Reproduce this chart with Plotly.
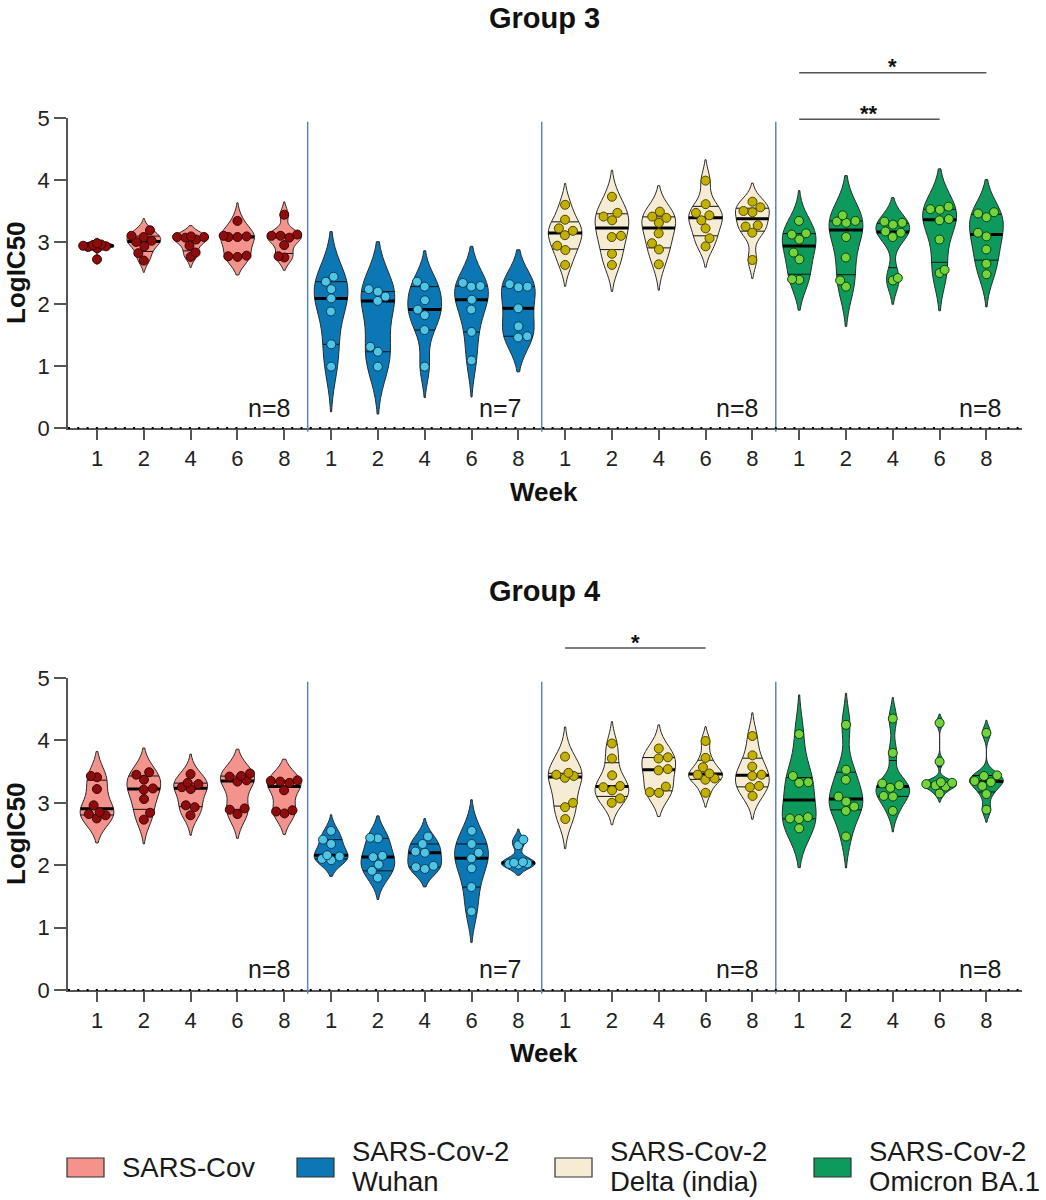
import numpy as np
import plotly.graph_objects as go

# ---- data (LogIC50 per animal) ----
variants = ["SARS-Cov", "SARS-Cov-2<br>Wuhan", "SARS-Cov-2<br>Delta (india)", "SARS-Cov-2<br>Omicron BA.1"]
weeks = ["1", "2", "4", "6", "8"]
n_labels = ["n=8", "n=7", "n=8", "n=8"]

g3_sarscov = [
    [2.72, 2.90, 2.92, 2.93, 2.94, 2.95, 2.96, 2.98],
    [2.70, 2.82, 2.93, 3.00, 3.02, 3.08, 3.10, 3.19],
    [2.76, 2.83, 2.94, 3.04, 3.07, 3.08, 3.08, 3.09],
    [2.76, 2.77, 2.78, 3.08, 3.08, 3.09, 3.10, 3.34],
    [2.75, 2.77, 2.95, 3.07, 3.10, 3.10, 3.12, 3.44],
]
g3_wuhan = [
    [0.99, 1.35, 1.88, 2.09, 2.24, 2.36, 2.44],
    [0.99, 1.23, 1.31, 2.05, 2.12, 2.20, 2.24],
    [0.99, 1.58, 1.82, 1.91, 2.06, 2.28, 2.36],
    [1.09, 1.55, 1.91, 2.07, 2.28, 2.29, 2.34],
    [1.46, 1.48, 1.64, 1.93, 2.27, 2.28, 2.32],
]
g3_delta = [
    [2.63, 2.87, 2.94, 3.11, 3.18, 3.22, 3.36, 3.60],
    [2.63, 2.81, 3.08, 3.10, 3.35, 3.41, 3.47, 3.73],
    [2.64, 2.88, 2.98, 3.14, 3.31, 3.39, 3.41, 3.49],
    [2.93, 3.06, 3.22, 3.35, 3.43, 3.47, 3.61, 3.99],
    [2.71, 3.15, 3.25, 3.27, 3.48, 3.50, 3.56, 3.65],
]
g3_omicron = [
    [2.39, 2.40, 2.72, 2.83, 3.04, 3.12, 3.14, 3.34],
    [2.28, 2.38, 2.75, 3.08, 3.31, 3.33, 3.34, 3.43],
    [2.38, 2.42, 3.08, 3.15, 3.17, 3.28, 3.31, 3.33],
    [2.50, 2.55, 3.04, 3.35, 3.37, 3.52, 3.53, 3.57],
    [2.48, 2.65, 2.88, 3.09, 3.15, 3.40, 3.46, 3.48],
]
g4_sarscov = [
    [2.75, 2.80, 2.82, 2.85, 2.96, 3.22, 3.41, 3.43],
    [2.73, 2.84, 3.06, 3.21, 3.23, 3.37, 3.45, 3.49],
    [2.80, 2.93, 2.96, 3.22, 3.25, 3.30, 3.32, 3.46],
    [2.82, 2.89, 2.91, 3.34, 3.36, 3.42, 3.43, 3.47],
    [2.83, 2.86, 2.88, 3.20, 3.32, 3.34, 3.35, 3.36],
]
g4_wuhan = [
    [2.08, 2.10, 2.14, 2.16, 2.34, 2.41, 2.55],
    [1.80, 1.91, 2.01, 2.13, 2.15, 2.43, 2.44],
    [1.94, 1.97, 1.99, 2.20, 2.22, 2.34, 2.46],
    [1.26, 1.65, 1.95, 2.11, 2.20, 2.34, 2.55],
    [2.01, 2.02, 2.03, 2.04, 2.05, 2.32, 2.41],
]
g4_delta = [
    [2.74, 2.93, 3.00, 3.40, 3.43, 3.45, 3.48, 3.74],
    [3.00, 3.07, 3.20, 3.25, 3.27, 3.44, 3.71, 3.95],
    [3.16, 3.17, 3.26, 3.52, 3.54, 3.71, 3.73, 3.87],
    [3.16, 3.37, 3.39, 3.45, 3.47, 3.57, 3.72, 3.99],
    [3.11, 3.25, 3.27, 3.43, 3.45, 3.58, 3.76, 4.07],
]
g4_omicron = [
    [2.59, 2.74, 2.75, 2.77, 3.32, 3.33, 3.43, 4.10],
    [2.46, 2.87, 2.94, 3.02, 3.10, 3.37, 3.53, 4.25],
    [2.87, 3.10, 3.11, 3.24, 3.28, 3.31, 3.80, 4.35],
    [3.15, 3.26, 3.28, 3.30, 3.32, 3.33, 3.66, 4.28],
    [2.89, 3.14, 3.27, 3.33, 3.35, 3.43, 3.44, 4.12],
]

# significance bars: (group, first slot, last slot, label, height)
sig_bars = [
    ("g3", 15, 19, "*", 5.73),
    ("g3", 15, 18, "**", 4.98),
    ("g4", 10, 13, "*", 5.48),
]

groups = {
    "g3": [g3_sarscov, g3_wuhan, g3_delta, g3_omicron],
    "g4": [g4_sarscov, g4_wuhan, g4_delta, g4_omicron],
}

# ---- styling / geometry ----
FILL = ["#F4938B", "#0B77B4", "#F5ECD3", "#0F9A5D"]
POINT = ["#8E0C0C", "#4FC5E6", "#C3B000", "#72D43A"]
POINT_EDGE = ["#3a0505", "#0d3b55", "#4d4500", "#0f3d12"]
FONT = "Liberation Sans, Arial, sans-serif"
FW, FH = 1046, 1200


def PX(x):
    return x / FW


def PY(y):
    return 1 - y / FH


X_DOM = [PX(68), PX(1022)]
X_RANGE = [-0.62, 19.76]
Y_DOM = {"g3": [PY(428), PY(118)], "g4": [PY(990), PY(678)]}
AX = {"g3": ("x", "y"), "g4": ("x2", "y2")}
VWIDTH = 0.72
PX_X = (X_DOM[1] - X_DOM[0]) * FW / (X_RANGE[1] - X_RANGE[0])
PX_Y = 62.2


def xp(x):
    return X_DOM[0] + (x - X_RANGE[0]) / (X_RANGE[1] - X_RANGE[0]) * (X_DOM[1] - X_DOM[0])


def yp(v, g):
    d = Y_DOM[g]
    return d[0] + v / 5 * (d[1] - d[0])


def bandwidth(v):
    v = np.asarray(v)
    sd = v.std(ddof=1)
    q1, q3 = np.percentile(v, [25, 75])
    a = min(sd, (q3 - q1) / 1.349) or sd
    return max(1.059 * a * len(v) ** -0.2, 0.04)


def half_width(v, bw, y):
    v = np.asarray(v)
    lo, hi = v.min() - 2 * bw, v.max() + 2 * bw
    n = int(np.ceil((hi - lo) / (bw / 3)))
    grid = np.linspace(lo, hi, n + 1)
    dens = lambda t: np.exp(-0.5 * ((np.atleast_1d(t)[:, None] - v[None, :]) / bw) ** 2).sum(1)
    return VWIDTH / 2 * dens(y) / dens(grid).max()


def swarm(v, bw, d=9.0):
    # simple beeswarm, kept inside the violin where possible
    v = np.asarray(v)
    ys = v * PX_Y
    lims = np.clip(half_width(v, bw, v) * PX_X - 3, 5, 15)
    placed, offs = [], np.zeros(len(v))
    for i in np.argsort(ys):
        cands = sorted(np.arange(-lims[i], lims[i] + 0.01, 0.5), key=lambda c: (abs(c), -c))
        best, best_gap = 0.0, -1
        for c in cands:
            gap = min([np.hypot(c - px, ys[i] - py) for px, py in placed] or [99])
            if gap >= d:
                best = c
                break
            if gap > best_gap:
                best, best_gap = c, gap
        placed.append((best, ys[i]))
        offs[i] = best / PX_X
    return offs


fig = go.Figure()

for g, series in groups.items():
    xa, ya = AX[g]
    for vi, weekly in enumerate(series):
        med_x, med_y, q_x, q_y, pt_x, pt_y = [], [], [], [], [], []
        for wi, vals in enumerate(weekly):
            pos = vi * 5 + wi
            bw = bandwidth(vals)
            fig.add_trace(go.Violin(
                x=[pos] * len(vals), y=vals, xaxis=xa, yaxis=ya,
                bandwidth=bw, spanmode="soft", width=VWIDTH,
                fillcolor=FILL[vi], line=dict(color="#2b2b2b", width=1),
                opacity=1, points=False, box_visible=False, meanline_visible=False,
                showlegend=False, hoverinfo="y",
            ))
            med = np.median(vals)
            q1, q3 = np.percentile(vals, [25, 75], method="weibull")
            hw = half_width(vals, bw, [med, q1, q3])
            med_x += [pos - hw[0], pos + hw[0], None]
            med_y += [med, med, None]
            for q, h in ((q1, hw[1]), (q3, hw[2])):
                q_x += [pos - h, pos + h, None]
                q_y += [q, q, None]
            pt_x += list(pos + swarm(vals, bw))
            pt_y += list(vals)
        fig.add_trace(go.Scatter(x=q_x, y=q_y, xaxis=xa, yaxis=ya, mode="lines",
                                 line=dict(color="#111", width=1), showlegend=False, hoverinfo="skip"))
        fig.add_trace(go.Scatter(x=med_x, y=med_y, xaxis=xa, yaxis=ya, mode="lines",
                                 line=dict(color="#000", width=3), showlegend=False, hoverinfo="skip"))
        fig.add_trace(go.Scatter(x=pt_x, y=pt_y, xaxis=xa, yaxis=ya, mode="markers",
                                 marker=dict(size=9, color=POINT[vi], line=dict(color=POINT_EDGE[vi], width=1)),
                                 showlegend=False, hoverinfo="y"))

shapes, annotations = [], []
for g in groups:
    # separators between virus panels
    for k in range(1, 4):
        shapes.append(dict(type="line", xref="paper", yref="paper", x0=xp(k * 5 - 0.5), x1=xp(k * 5 - 0.5),
                           y0=yp(-0.06, g), y1=yp(4.94, g), line=dict(color="#5b87b8", width=1.5)))
    # dotted zero line
    shapes.append(dict(type="line", xref="paper", yref="paper", x0=X_DOM[0], x1=X_DOM[1],
                       y0=yp(0, g), y1=yp(0, g), line=dict(color="#000", width=2, dash="2px,7.3px")))
    xa, ya = AX[g]
    for lab, nx in zip(n_labels, [4.17, 9.1, 14.17, 19.36]):
        annotations.append(dict(xref=xa, yref=ya, x=nx, y=0.33, text=lab, showarrow=False,
                                xanchor="right", yanchor="middle", font=dict(size=25, color="#1a1a1a")))

for g, a, b, lab, lvl in sig_bars:
    shapes.append(dict(type="line", xref="paper", yref="paper", x0=xp(a), x1=xp(b),
                       y0=yp(lvl, g), y1=yp(lvl, g), line=dict(color="#555", width=1.5)))
    annotations.append(dict(xref="paper", yref="paper", x=xp((a + b) / 2), y=yp(lvl, g) + 6 / FH,
                            text="<b>%s</b>" % lab, showarrow=False, xanchor="center", yanchor="middle",
                            font=dict(size=22, color="#111")))

# titles and axis titles
for title, ty, wy, ly in (("Group 3", 0, 492, 273), ("Group 4", 573, 1053, 834)):
    annotations.append(dict(xref="paper", yref="paper", x=PX(544), y=PY(ty), text="<b>%s</b>" % title,
                            showarrow=False, xanchor="center", yanchor="top", font=dict(size=29, color="#111")))
    annotations.append(dict(xref="paper", yref="paper", x=PX(544), y=PY(wy), text="<b>Week</b>",
                            showarrow=False, xanchor="center", yanchor="middle", font=dict(size=26, color="#111")))
    annotations.append(dict(xref="paper", yref="paper", x=PX(16), y=PY(ly), text="<b>LogIC50</b>",
                            showarrow=False, textangle=-90, xanchor="center", yanchor="middle",
                            font=dict(size=26, color="#111")))

# legend drawn as boxes + labels (one annotation per text line)
for vi, name in enumerate(variants):
    x0 = [67, 297, 555, 814][vi]
    shapes.append(dict(type="rect", xref="paper", yref="paper", x0=PX(x0), x1=PX(x0 + 37),
                       y0=PY(1177), y1=PY(1158), fillcolor=FILL[vi], line=dict(color="#333", width=1.2)))
    lines = name.split("<br>")
    ys = [1167] if len(lines) == 1 else [1151, 1181]
    for txt, ly in zip(lines, ys):
        annotations.append(dict(xref="paper", yref="paper", x=PX(x0 + 53), y=PY(ly),
                                text=txt, showarrow=False, xanchor="left", yanchor="middle", align="left",
                                font=dict(size=27.5, color="#1a1a1a")))

axis_common = dict(showgrid=False, zeroline=False, showline=True, linecolor="#555", linewidth=1.5,
                   ticks="outside", tickcolor="#555", tickwidth=1.5, automargin=False,
                   tickfont=dict(size=22, color="#222", family=FONT))
xcommon = dict(axis_common, range=X_RANGE, domain=X_DOM, tickmode="array",
               tickvals=list(range(20)), ticktext=weeks * 4, ticklen=10)
ycommon = dict(axis_common, range=[0, 5], tickmode="array", tickvals=[0, 1, 2, 3, 4, 5], ticklen=12)

fig.update_layout(
    width=FW, height=FH,
    margin=dict(l=0, r=0, t=0, b=0, autoexpand=False),
    paper_bgcolor="white", plot_bgcolor="white",
    font=dict(family=FONT, color="#111"),
    violinmode="overlay",
    showlegend=False,
    xaxis=dict(xcommon, anchor="y"),
    yaxis=dict(ycommon, domain=Y_DOM["g3"], anchor="x"),
    xaxis2=dict(xcommon, anchor="y2"),
    yaxis2=dict(ycommon, domain=Y_DOM["g4"], anchor="x2"),
    shapes=shapes,
    annotations=annotations,
)

# the page's default 8px body margin would push the fixed-size figure off the window
fig.write_html("out.html", config={"displayModeBar": False},
               post_script="document.body.style.margin='0';")
